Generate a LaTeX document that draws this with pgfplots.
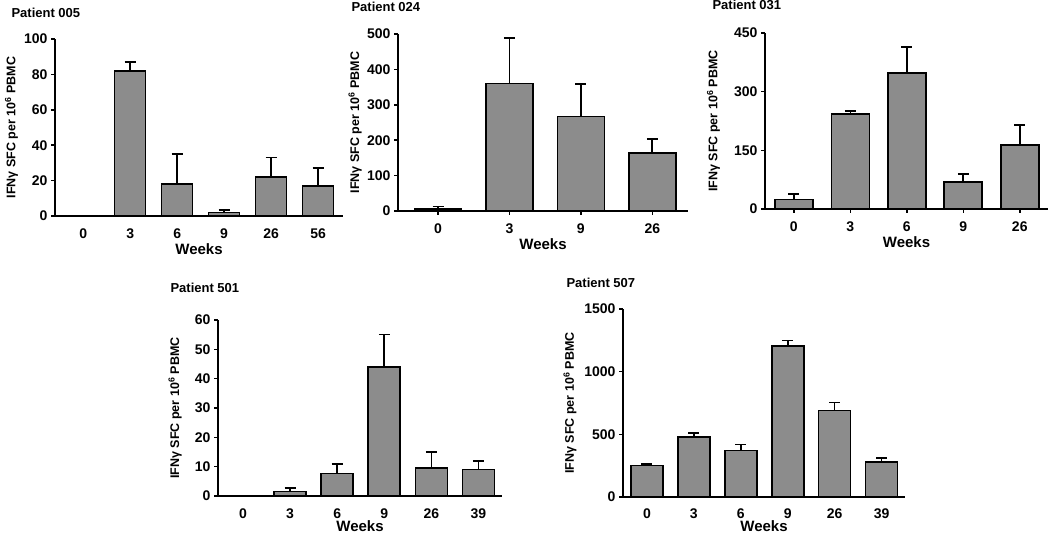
\documentclass[border=0pt]{standalone}
\usepackage{fontspec}
\setmainfont{Liberation Sans}
\usepackage{pgfplots}
\pgfplotsset{compat=1.18}

\definecolor{barfill}{HTML}{8C8C8C}

\pgfplotsset{
  panel/.style={
    scale only axis,
    anchor=south west,
    axis x line=bottom, axis y line=left,
    axis line style={line width=1.8pt,-},
    ymin=0,
    ybar,
    major tick length=4pt,
    tick align=outside,
    ytick style={line width=1.5pt, black},
    tick label style={font=\bfseries\fontsize{14}{14}\selectfont},
    xticklabel style={yshift=-5pt},
    /pgf/number format/assume math mode=true,
    /pgf/number format/1000 sep={},
    xlabel={Weeks},
    xlabel style={font=\bfseries\fontsize{15}{15}\selectfont,
      at={(axis description cs:0.5,0)}, anchor=center, yshift=-33pt},
    ylabel={IFNγ SFC per 10\textsuperscript{6} PBMC},
    ylabel style={font=\bfseries\fontsize{12.5}{12.5}\selectfont, anchor=center},
    clip=false,
  },
  noxticks/.style={xtick style={draw=none}},
  xticks/.style={xmajorticks=true,
    every major x tick/.append style={draw=black, line width=1.5pt}},
  bars/.style={
    fill=barfill, draw=black, line width=1.6pt,
    error bars/.cd, y dir=plus, y explicit, error mark=|,
    error bar style={line width=1.6pt, black},
    error mark options={mark size=5.5pt, line width=1.6pt, black},
  },
}
\tikzset{ptitle/.style={anchor=west, font=\bfseries\fontsize{13}{13}\selectfont}}

\begin{document}
\begin{tikzpicture}
\useasboundingbox (0,0) rectangle (1050pt,533pt);

% Patient 005
\begin{axis}[panel, noxticks, at={(55pt,317pt)}, width=288pt, height=177pt,
    xmin=-0.6, xmax=5.53, ymax=100, ytick={0,20,...,100},
    xtick={0,...,5}, xticklabels={0,3,6,9,26,56}, bar width=31pt,
    ylabel style={at={(axis description cs:-0.151,0.5)}}]
\addplot[bars] coordinates {
  (0,0) +- (0,0)
  (1,82) +- (0,5)
  (2,18) +- (0,17)
  (3,2) +- (0,1.5)
  (4,22) +- (0,11)
  (5,17) +- (0,10)
};
\end{axis}
\node[ptitle] at (8pt,520pt) {Patient 005};

% Patient 024
\begin{axis}[panel, xticks, at={(398pt,322pt)}, width=290pt, height=177pt,
    xmin=-0.56, xmax=3.5, ymax=500, ytick={0,100,...,500},
    xtick={0,...,3}, xticklabels={0,3,9,26}, bar width=47pt,
    ylabel style={at={(axis description cs:-0.148,0.5)}}]
\addplot[bars] coordinates {
  (0,6) +- (0,7)
  (1,360) +- (0,128)
  (2,267) +- (0,91)
  (3,164) +- (0,39)
};
\end{axis}
\node[ptitle] at (348pt,526pt) {Patient 024};

% Patient 031
\begin{axis}[panel, xticks, at={(765pt,324pt)}, width=283pt, height=176pt,
    xmin=-0.51, xmax=4.5, ymax=450, ytick={0,150,300,450},
    xtick={0,...,4}, xticklabels={0,3,6,9,26}, bar width=38pt,
    ylabel style={at={(axis description cs:-0.182,0.5)}}]
\addplot[bars] coordinates {
  (0,24) +- (0,14)
  (1,243) +- (0,8)
  (2,347) +- (0,67)
  (3,69) +- (0,21)
  (4,164) +- (0,51)
};
\end{axis}
\node[ptitle] at (709pt,528pt) {Patient 031};

% Patient 501
\begin{axis}[panel, noxticks, at={(218pt,37pt)}, width=284pt, height=176pt,
    xmin=-0.53, xmax=5.5, ymax=60, ytick={0,10,...,60},
    xtick={0,...,5}, xticklabels={0,3,6,9,26,39}, bar width=32pt,
    xlabel style={yshift=3pt},
    ylabel style={at={(axis description cs:-0.151,0.5)}}]
\addplot[bars] coordinates {
  (0,0) +- (0,0)
  (1,1.5) +- (0,1.2)
  (2,7.7) +- (0,3.3)
  (3,44) +- (0,11)
  (4,9.5) +- (0,5.5)
  (5,9) +- (0,3)
};
\end{axis}
\node[ptitle] at (167pt,245pt) {Patient 501};

% Patient 507
\begin{axis}[panel, noxticks, at={(623pt,36pt)}, width=282pt, height=188pt,
    xmin=-0.51, xmax=5.5, ymax=1500, ytick={0,500,1000,1500},
    xtick={0,...,5}, xticklabels={0,3,6,9,26,39}, bar width=32pt,
    xticklabel style={yshift=1pt},
    xlabel style={yshift=4pt},
    ylabel style={at={(axis description cs:-0.188,0.5)}}]
\addplot[bars] coordinates {
  (0,250) +- (0,12)
  (1,478) +- (0,32)
  (2,372) +- (0,46)
  (3,1205) +- (0,45)
  (4,690) +- (0,65)
  (5,280) +- (0,32)
};
\end{axis}
\node[ptitle] at (563pt,250pt) {Patient 507};
\end{tikzpicture}
\end{document}
